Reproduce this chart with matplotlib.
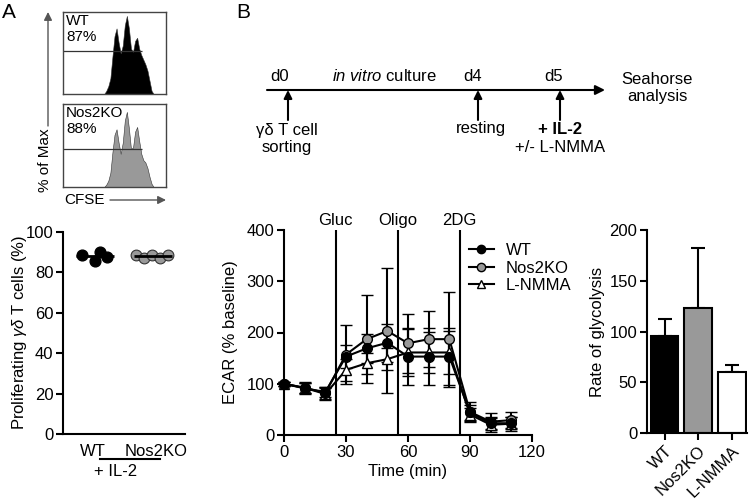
import matplotlib
matplotlib.use("Agg")
import matplotlib.pyplot as plt
from matplotlib.lines import Line2D

plt.rcParams["font.family"] = ["Liberation Sans", "DejaVu Sans"]
plt.rcParams["mathtext.fontset"] = "custom"
plt.rcParams["mathtext.it"] = "Liberation Sans:italic"
plt.rcParams["mathtext.rm"] = "Liberation Sans"

W, H = 752, 499
FS = 12

# --- panel A: CFSE histograms ---
cfse_channels = [40, 42, 44, 46, 48, 50, 52, 54, 56, 58, 60, 62, 64,
                 66, 68, 70, 72, 74, 76, 78, 80, 82, 84, 86, 88]
wt_counts = [0, 0.04, 0.10, 0.20, 0.48, 0.74, 0.84, 0.66, 0.52, 0.62, 0.88, 1.0, 0.84,
             0.58, 0.54, 0.68, 0.72, 0.58, 0.50, 0.44, 0.38, 0.30, 0.17, 0.04, 0]
ko_counts = [0, 0.03, 0.08, 0.18, 0.44, 0.66, 0.73, 0.56, 0.42, 0.56, 0.84, 0.95, 0.74,
             0.48, 0.50, 0.70, 0.76, 0.58, 0.42, 0.34, 0.31, 0.24, 0.13, 0.04, 0]
hist_labels = ["WT\n87%", "Nos2KO\n88%"]
gate_levels = [0.55, 0.48]

# --- panel A: proliferation scatter ---
prolif_groups = ["WT", "Nos2KO"]
prolif_wt = [88.8, 85.5, 90.0, 87.6]
prolif_ko = [88.5, 87.0, 88.5, 87.0, 88.5]

# --- panel B: ECAR time course ---
time_min = [0, 10, 20, 30, 40, 50, 60, 70, 80, 90, 100, 110]
ecar_wt = [100, 91, 84, 153, 169, 180, 153, 153, 153, 44, 23, 23]
ecar_wt_err = [4, 10, 10, 22, 28, 37, 55, 55, 55, 15, 12, 12]
ecar_ko = [100, 92, 82, 157, 187, 203, 179, 187, 187, 45, 26, 29]
ecar_ko_err = [4, 12, 12, 58, 86, 122, 58, 55, 93, 20, 16, 16]
ecar_nmma = [100, 92, 80, 127, 140, 148, 161, 161, 161, 40, 20, 22]
ecar_nmma_err = [4, 10, 12, 22, 20, 21, 45, 40, 42, 12, 14, 14]
injections = [25, 55, 85]
injection_labels = ["Gluc", "Oligo", "2DG"]

# --- panel B: glycolysis rate ---
glyco_groups = ["WT", "Nos2KO", "L-NMMA"]
glyco_rate = [96, 123, 60]
glyco_err = [16.5, 59.5, 7]


def add_ax(left, top, right, bottom):
    return fig.add_axes([left / W, 1 - bottom / H, (right - left) / W, (bottom - top) / H])


def style(ax):
    for s in ["top", "right"]:
        ax.spines[s].set_visible(False)
    for s in ["left", "bottom"]:
        ax.spines[s].set_linewidth(1.5)
    ax.tick_params(direction="out", length=5, width=1.5, labelsize=FS, pad=2)


fig = plt.figure(figsize=(W / 100, H / 100), dpi=100)
fig.patch.set_facecolor("white")

# overlay in pixel coordinates for annotations
ov = fig.add_axes([0, 0, 1, 1])
ov.set_xlim(0, W)
ov.set_ylim(H, 0)
ov.axis("off")

ov.text(2, 12, "A", fontsize=15, va="center")
ov.text(236, 12, "B", fontsize=15, va="center")

# histograms
for (t, b), counts, lab, gate, col in zip([(12, 94), (104, 187)], [wt_counts, ko_counts],
                                          hist_labels, gate_levels, ["black", "#999999"]):
    ax = add_ax(63, t, 166, b)
    ax.fill_between(cfse_channels, counts, color=col, edgecolor="#333333", linewidth=0.4)
    ax.hlines(gate, 0, 77, color="#333333", lw=0.9)
    ax.set_xlim(0, 100)
    ax.set_ylim(0, 1.05)
    ax.set_xticks([])
    ax.set_yticks([])
    for s in ax.spines.values():
        s.set_linewidth(1.0)
        s.set_color("#444444")
    ax.text(0.03, 0.97, lab, transform=ax.transAxes, fontsize=11, va="top", ha="left",
            linespacing=1.1)

ov.annotate("", xy=(48, 12), xytext=(48, 126),
            arrowprops=dict(arrowstyle="-|>", color="#555555", lw=1.0, mutation_scale=12,
                            shrinkA=0, shrinkB=0))
ov.text(45, 160, "% of Max", rotation=90, ha="center", va="center", fontsize=11)
ov.text(64, 200, "CFSE", ha="left", va="center", fontsize=11)
ov.annotate("", xy=(166, 200), xytext=(110, 200),
            arrowprops=dict(arrowstyle="-|>", color="#555555", lw=1.0, mutation_scale=12,
                            shrinkA=0, shrinkB=0))

# proliferation scatter
ax = add_ax(63, 232, 185, 434)
style(ax)
ax.scatter([0.78, 1.0, 1.08, 1.2], prolif_wt, s=60, color="black", zorder=3)
ax.scatter([1.7, 1.84, 1.98, 2.12, 2.26], prolif_ko, s=60, color="#999999",
           edgecolor="#333333", linewidth=0.8, zorder=3)
for x0, vals in zip([1, 2], [prolif_wt, prolif_ko]):
    m = sum(vals) / len(vals)
    ax.hlines(m, x0 - 0.32, x0 + 0.32, color="black", lw=2, zorder=4)
ax.set_xlim(0.45, 2.55)
ax.set_ylim(0, 100)
ax.set_yticks([0, 20, 40, 60, 80, 100])
ax.set_xticks([])
ax.set_ylabel(r"Proliferating $\mathit{\gamma\delta}$ T cells (%)", fontsize=FS)
ax.yaxis.set_label_coords(-0.28, 0.5)
ov.text(93, 451, prolif_groups[0], ha="center", va="center", fontsize=FS)
ov.text(156, 451, prolif_groups[1], ha="center", va="center", fontsize=FS)
ov.plot([100, 160], [459, 459], color="black", lw=1.5)
ov.text(116, 471, "+ IL-2", ha="center", va="center", fontsize=FS)

# timeline
ov.annotate("", xy=(605, 90), xytext=(267, 90),
            arrowprops=dict(arrowstyle="-|>", color="black", lw=1.5, mutation_scale=14,
                            shrinkA=0, shrinkB=0))
for xa in [288, 478, 560]:
    ov.annotate("", xy=(xa, 90), xytext=(xa, 120),
                arrowprops=dict(arrowstyle="-|>", color="black", lw=1.5, mutation_scale=12,
                                shrinkA=0, shrinkB=0))
ov.text(280, 76, "d0", ha="center", va="center", fontsize=FS)
ov.text(384, 76, r"$\mathit{in\ vitro}$ culture", ha="center", va="center", fontsize=FS)
ov.text(473, 76, "d4", ha="center", va="center", fontsize=FS)
ov.text(554, 76, "d5", ha="center", va="center", fontsize=FS)
ov.text(657, 88, "Seahorse\nanalysis", ha="center", va="center", fontsize=FS,
        linespacing=1.2)
ov.text(287, 139, "γδ T cell\nsorting", ha="center", va="center", fontsize=FS,
        linespacing=1.2)
ov.text(481, 129, "resting", ha="center", va="center", fontsize=FS)
ov.text(560, 129, "+ IL-2", ha="center", va="center", fontsize=FS, weight="bold")
ov.text(560, 148, "+/- L-NMMA", ha="center", va="center", fontsize=FS)

# ECAR
ax = add_ax(284, 230, 532, 435)
style(ax)
for xi in injections:
    ax.axvline(xi, color="black", lw=1.5, zorder=1)
for xi, lab in zip(injections, injection_labels):
    ax.text(xi, 404, lab, ha="center", va="bottom", fontsize=FS, clip_on=False)
series = [
    (ecar_nmma, ecar_nmma_err, "^", "white", "L-NMMA"),
    (ecar_ko, ecar_ko_err, "o", "#999999", "Nos2KO"),
    (ecar_wt, ecar_wt_err, "o", "black", "WT"),
]
handles = {}
for vals, err, mk, fc, lab in series:
    ax.errorbar(time_min, vals, yerr=err, color="black", lw=1.5, elinewidth=1.5,
                capsize=4, capthick=1.5, marker=mk, markersize=7 if mk == "o" else 7.5,
                markerfacecolor=fc, markeredgecolor="black", markeredgewidth=1.0,
                zorder=3, clip_on=False)
    handles[lab] = Line2D([], [], color="black", lw=1.5, marker=mk, markersize=6,
                          markerfacecolor=fc, markeredgecolor="black")
ax.legend([handles[k] for k in ["WT", "Nos2KO", "L-NMMA"]], ["WT", "Nos2KO", "L-NMMA"],
          loc="upper left", bbox_to_anchor=(0.745, 0.935), frameon=False, fontsize=FS,
          handlelength=1.5, handletextpad=0.7, labelspacing=0.15, borderpad=0,
          borderaxespad=0)
ax.set_xlim(0, 120)
ax.set_ylim(0, 400)
ax.set_xticks([0, 30, 60, 90, 120])
ax.set_yticks([0, 100, 200, 300, 400])
ax.set_xlabel("Time (min)", fontsize=FS, labelpad=3)
ax.set_ylabel("ECAR (% baseline)", fontsize=FS)
ax.yaxis.set_label_coords(-0.185, 0.5)

# glycolysis bars
ax = add_ax(647, 230, 747, 433)
style(ax)
xs = range(len(glyco_groups))
ax.bar(xs, glyco_rate, width=0.82, color=["black", "#999999", "white"],
       edgecolor="black", linewidth=1.5, zorder=2)
ax.errorbar(xs, glyco_rate, yerr=[[0] * 3, glyco_err], fmt="none", ecolor="black",
            elinewidth=1.5, capsize=5, capthick=1.5, zorder=1)
ax.set_xlim(-0.52, 2.45)
ax.set_ylim(0, 200)
ax.set_yticks([0, 50, 100, 150, 200])
ax.set_xticks(list(xs))
ax.set_xticklabels(glyco_groups, rotation=45, ha="right", rotation_mode="anchor")
ax.set_ylabel("Rate of glycolysis", fontsize=FS)
ax.yaxis.set_label_coords(-0.42, 0.5)

fig.savefig("out.png", dpi=100, facecolor="white")
